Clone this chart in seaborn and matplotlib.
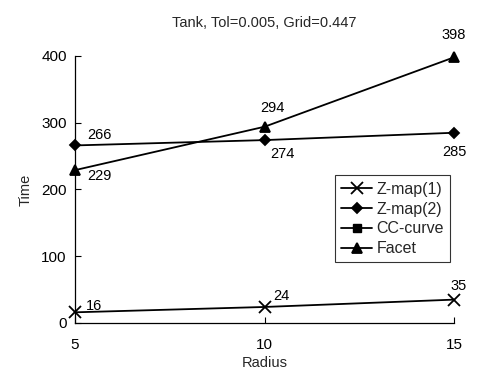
import numpy as np
import pandas as pd
import matplotlib
matplotlib.use("Agg")
import matplotlib.pyplot as plt
import seaborn as sns

radius = [5, 10, 15]
zmap1 = [16, 24, 35]
zmap2 = [266, 274, 285]
cc_curve = [np.nan, np.nan, np.nan]
facet = [229, 294, 398]

series_names = ["Z-map(1)", "Z-map(2)", "CC-curve", "Facet"]
series_values = [zmap1, zmap2, cc_curve, facet]
markers = ["x", "D", "s", "^"]
marker_sizes = [8, 5.5, 6, 7.5]

# value-label offsets in points (dx, dy) and horizontal alignment
label_offsets = {
    "Z-map(1)": [(7.5, 4.5, "left"), (6, 8, "left"), (3, 10, "center")],
    "Z-map(2)": [(9, 7.5, "left"), (4, -10, "left"), (0, -14, "center")],
    "Facet": [(9, -4.5, "left"), (6, 13.5, "center"), (0, 16, "center")],
}

sns.set_theme(style="ticks")
plt.rcParams["font.family"] = ["Liberation Sans", "DejaVu Sans"]

fig = plt.figure(figsize=(4.79, 3.75), dpi=100)
ax = fig.add_axes([0.1566, 0.1387, 0.7912, 0.712])

for name, vals, mk, ms in zip(series_names, series_values, markers, marker_sizes):
    df = pd.DataFrame({"Radius": radius, "Time": vals})
    if df["Time"].notna().any():
        sns.lineplot(data=df, x="Radius", y="Time", ax=ax, color="black",
                     marker=mk, markersize=ms, markeredgecolor="black",
                     markeredgewidth=1.3, linewidth=1.3, label=name,
                     clip_on=False)
    else:
        ax.plot(radius, vals, color="black", marker=mk, markersize=ms,
                linewidth=1.3, label=name)
    if name in label_offsets:
        for xv, yv, (dx, dy, ha) in zip(radius, vals, label_offsets[name]):
            ax.annotate(f"{yv:g}", (xv, yv), xytext=(dx, dy),
                        textcoords="offset points", ha=ha, va="center",
                        fontsize=10.5, color="black")

ax.set_xlim(5, 15)
ax.set_ylim(0, 400)
ax.set_xticks(radius)
ax.set_yticks([0, 100, 200, 300, 400])
ax.tick_params(direction="in", length=4, width=0.8, colors="black",
               labelsize=11)
ax.tick_params(axis="x", pad=11)
ax.tick_params(axis="y", pad=6)
for side in ["top", "right"]:
    ax.spines[side].set_visible(False)
for side in ["left", "bottom"]:
    ax.spines[side].set_color("black")
    ax.spines[side].set_linewidth(0.9)

ax.set_xlabel("Radius", fontsize=10.5, labelpad=3)
ax.set_ylabel("Time", fontsize=10.5, labelpad=6)
ax.set_title("Tank, Tol=0.005, Grid=0.447", fontsize=10.5, pad=21)

leg = ax.legend(loc="upper left", bbox_to_anchor=(0.686, 0.553),
                fontsize=11.5, frameon=True, fancybox=False,
                handlelength=1.9, handletextpad=0.3, borderpad=0.4,
                labelspacing=0.3, borderaxespad=0)
leg.get_frame().set_edgecolor("black")
leg.get_frame().set_linewidth(0.8)

fig.savefig("out.png", dpi=100)
